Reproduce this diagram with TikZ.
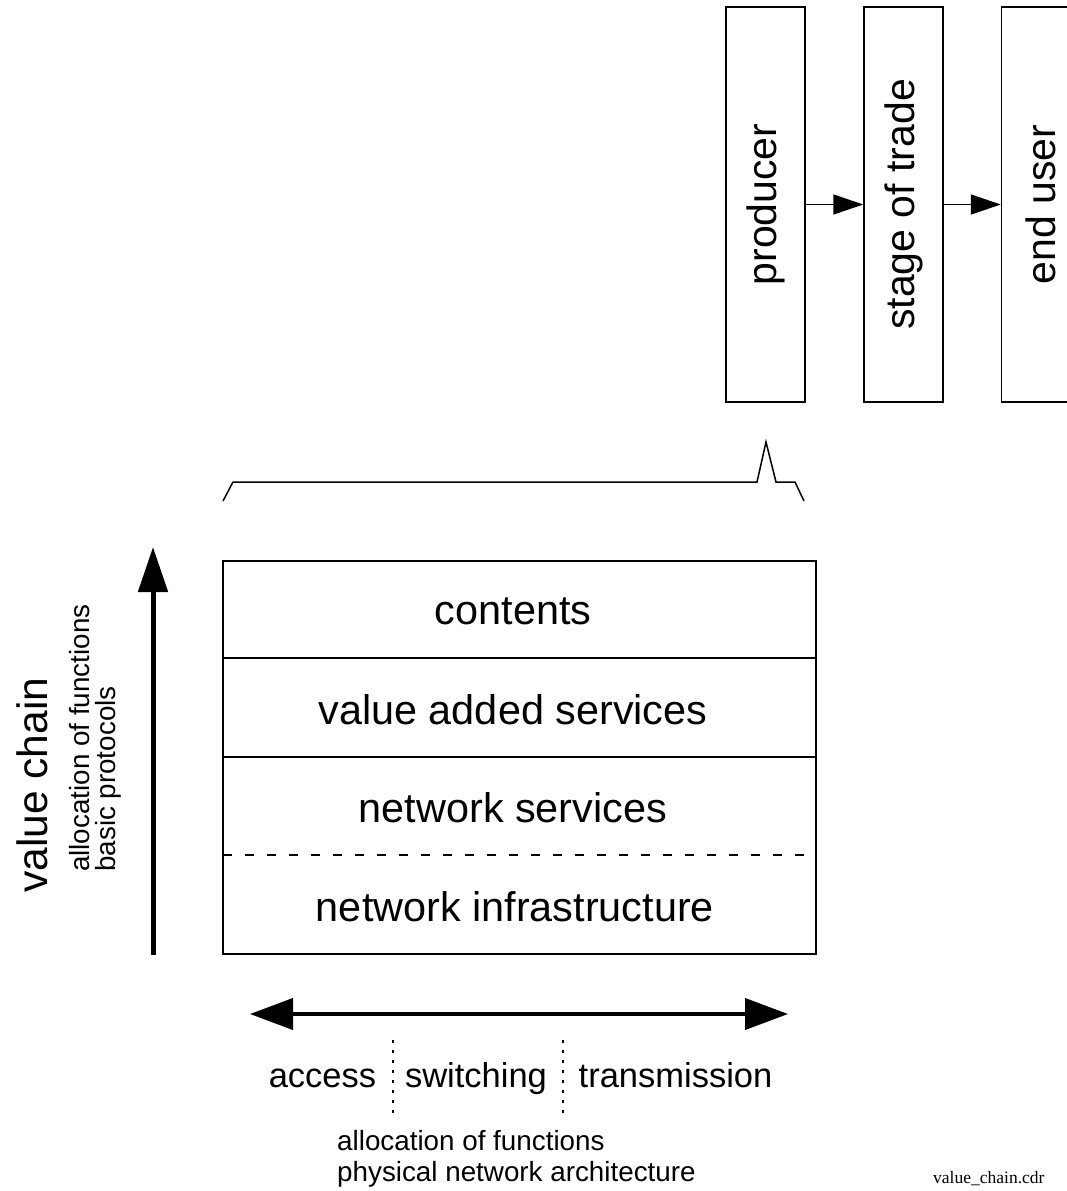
\documentclass[tikz,border=0pt]{standalone}
\usepackage{fontspec}
\setmainfont{Liberation Sans}
\newfontfamily\serifnote{Liberation Serif}
\usetikzlibrary{arrows.meta}

\tikzset{
  stagebox/.style={draw, line width=1.5pt, rotate=90, minimum width=395pt,
    minimum height=79pt, inner sep=0pt, font=\fontsize{41}{48}\selectfont},
  flowarrow/.style={line width=1.5pt, -{Triangle[length=30pt, width=20pt]}},
  layer/.style={inner sep=0pt, font=\fontsize{41.4}{48}\selectfont},
  frame/.style={line width=1.5pt},
  bigtext/.style={font=\fontsize{42.5}{50}\selectfont},
  smalltext/.style={font=\fontsize{27.8}{31}\selectfont},
  midtext/.style={font=\fontsize{34.5}{40}\selectfont},
  divider/.style={line width=1.2pt, dash pattern=on 3pt off 7pt},
}

\begin{document}
\begin{tikzpicture}[x=1pt, y=-1pt]
\path[use as bounding box] (0,0) rectangle (1066,1191);

% supply chain stages
\node[stagebox] (producer) at (765.5,204.5) {producer};
\node[stagebox] (trade) at (903.5,204.5) {stage of trade};
\node[stagebox] (enduser) at (1041,204.5) {end user};
\draw[flowarrow] (producer) -- (trade);
\draw[flowarrow] (trade) -- (enduser);

% brace spanning the layer stack
\draw[line width=1.5pt, line join=miter]
  (223,501) -- (233,482) -- (757,482) -- (766,442) -- (776,482)
  -- (795,482) -- (804,501);

% layer stack: frame corners and row boundaries
\coordinate (l0) at (223,561);  \coordinate (r0) at (816,561);
\coordinate (l1) at (223,658);  \coordinate (r1) at (816,658);
\coordinate (l2) at (223,757);  \coordinate (r2) at (816,757);
\coordinate (l3) at (223,855);  \coordinate (r3) at (816,855);
\coordinate (l4) at (223,954);  \coordinate (r4) at (816,954);
\draw[frame] (l0) rectangle (r4);
\draw[frame] (l1) -- (r1);
\draw[frame] (l2) -- (r2);
\draw[line width=1.2pt, dash pattern=on 9pt off 13pt] (l3) -- (r3);
\node[layer] (contents) at (513,611) {contents};
\node[layer] (vas) at (513,710) {value added services};
\node[layer] (netserv) at (513,808) {network services};
\node[layer] (infra) at (515,907) {network infrastructure};

% vertical value chain axis
\coordinate (vbot) at (153,955);
\coordinate (vtop) at (153,547);
\draw[line width=5pt, -{Triangle[length=45pt, width=29pt]}] (vbot) -- (vtop);
\node[bigtext, rotate=90, anchor=base west, inner sep=0pt] (vchain) at (47,893) {value chain};
\node[smalltext, rotate=90, anchor=base west, inner sep=0pt] (alloc1) at (89,872) {allocation of functions};
\node[smalltext, rotate=90, anchor=base west, inner sep=0pt] (basic) at (115,872) {basic protocols};

% horizontal network architecture axis
\coordinate (hleft) at (250,1014);
\coordinate (hright) at (788,1014);
\draw[line width=4pt, {Triangle[length=43pt, width=31pt]}-{Triangle[length=43pt, width=31pt]}] (hleft) -- (hright);
\node[midtext, anchor=base, inner sep=0pt] (access) at (322.5,1087) {access};
\node[midtext, anchor=base, inner sep=0pt] (switching) at (476,1087) {switching};
\node[midtext, anchor=base, inner sep=0pt] (transmission) at (675.5,1087) {transmission};
\coordinate (d1t) at (393,1040);
\coordinate (d1b) at (393,1115);
\coordinate (d2t) at (563,1040);
\coordinate (d2b) at (563,1115);
\draw[divider] (d1t) -- (d1b);
\draw[divider] (d2t) -- (d2b);
\node[smalltext, anchor=base west, inner sep=0pt, align=left] (alloc2) at (337,1181)
  {allocation of functions\\physical network architecture};

% file name
\node[anchor=base west, inner sep=0pt, font=\serifnote\fontsize{17.5}{20}\selectfont] (fname) at (933,1183) {value\_chain.cdr};
\end{tikzpicture}
\end{document}
